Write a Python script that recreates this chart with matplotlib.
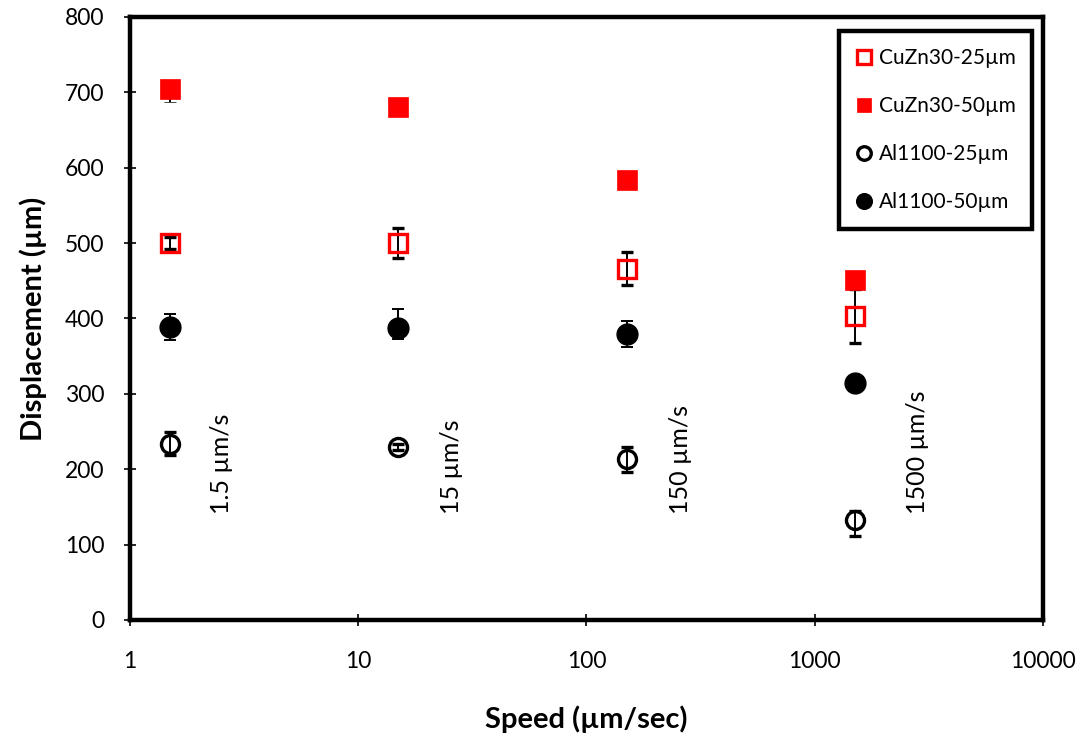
import numpy as np
import matplotlib.pyplot as plt
from matplotlib.lines import Line2D
from matplotlib.ticker import FixedLocator, NullLocator, FuncFormatter

plt.rcParams['font.family'] = ['Lato', 'DejaVu Sans']

# speeds (um/s)
speed = [1.5, 15, 150, 1500]

# CuZn30 (asymmetric error: lower, upper)
cuzn_25 = [500, 500, 466, 403]
cuzn_25_err = [8, 20, 22, 36]
cuzn_50 = [705, 680, 584, 451]
cuzn_50_lo = [18, 0, 0, 0]
cuzn_50_hi = [8, 0, 0, 0]

# Al1100 (asymmetric error: lower, upper)
al_25 = [234, 229, 214, 132]
al_25_lo = [15, 4, 18, 20]
al_25_hi = [15, 4, 15, 13]
al_50 = [389, 388, 380, 315]
al_50_lo = [17, 15, 18, 0]
al_50_hi = [17, 24, 16, 0]

series_names = ['CuZn30-25µm', 'CuZn30-50µm', 'Al1100-25µm', 'Al1100-50µm']
speed_labels = ['1.5 µm/s', '15 µm/s', '150 µm/s', '1500 µm/s']
label_x = [2.53, 25.7, 258, 2810]

red = '#FF0000'
styles = [
    dict(marker='s', markersize=13, markerfacecolor='none', markeredgecolor=red, markeredgewidth=2.4),
    dict(marker='s', markersize=14, markerfacecolor=red, markeredgecolor=red, markeredgewidth=0.5),
    dict(marker='o', markersize=13, markerfacecolor='none', markeredgecolor='black', markeredgewidth=2.4),
    dict(marker='o', markersize=15, markerfacecolor='black', markeredgecolor='black'),
]

fig = plt.figure(figsize=(10.85, 7.38), dpi=100)
ax = fig.add_axes([0.1198, 0.1599, 0.8415, 0.8171])

eb = dict(ecolor='black', elinewidth=1.4, capsize=4.5, capthick=1.4, linestyle='none')

ax.errorbar(speed, cuzn_25, yerr=cuzn_25_err, **styles[0], **eb)
ax.errorbar(speed, cuzn_50, yerr=[cuzn_50_lo, cuzn_50_hi], **styles[1], **eb)
ax.errorbar(speed, al_25, yerr=[al_25_lo, al_25_hi], **styles[2], **eb)
ax.errorbar(speed, al_50, yerr=[al_50_lo, al_50_hi], **styles[3], **eb)

for xl, txt in zip(label_x, speed_labels):
    ax.text(xl, 140, txt, rotation=90, ha='center', va='bottom', fontsize=18)

ax.set_xscale('log')
ax.set_xlim(1, 10000)
ax.set_ylim(0, 800)
ax.xaxis.set_major_locator(FixedLocator([1, 10, 100, 1000, 10000]))
ax.xaxis.set_minor_locator(NullLocator())
ax.xaxis.set_major_formatter(FuncFormatter(lambda v, p: '%d' % v))
ax.set_yticks(np.arange(0, 801, 100))

ax.tick_params(axis='both', direction='inout', length=9, width=1.2, labelsize=16.5)
ax.tick_params(axis='x', pad=18)
ax.tick_params(axis='y', pad=14)

for s in ax.spines.values():
    s.set_linewidth(3.2)
    s.set_color('black')

ax.set_xlabel('Speed (µm/sec)', fontsize=21, fontweight='bold', labelpad=24)
ax.set_ylabel('Displacement (µm)', fontsize=21, fontweight='bold', labelpad=13)

# legend shows markers only (no error bars)
handles = [Line2D([], [], linestyle='none', **st) for st in styles]
leg = ax.legend(handles, series_names, loc='upper right', bbox_to_anchor=(0.988, 0.976),
                borderaxespad=0, fontsize=15, labelspacing=1.35, handlelength=0.8,
                handletextpad=0.3, markerscale=0.75, fancybox=False, framealpha=1,
                borderpad=0.8)
leg.get_frame().set_edgecolor('black')
leg.get_frame().set_linewidth(3.2)

fig.savefig('out.png', dpi=100)
